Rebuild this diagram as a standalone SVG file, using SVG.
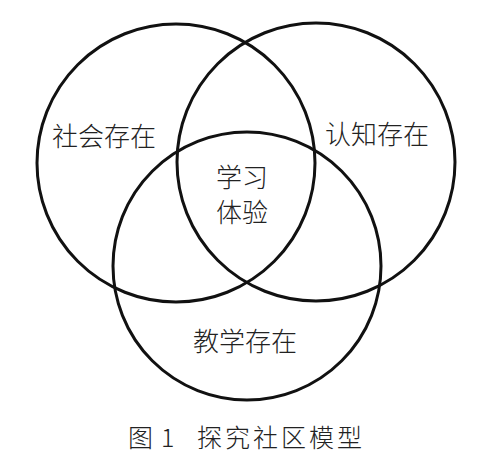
<svg xmlns="http://www.w3.org/2000/svg" width="500" height="457" viewBox="0 0 500 457">
<style>
.c{fill:none;stroke:#111;stroke-width:3}
.t{font-family:"Noto Sans CJK SC","Noto Sans",sans-serif;font-size:26px;fill:#222;font-weight:300}
.cap{font-family:"Noto Sans CJK SC","Noto Sans",sans-serif;font-size:25px;fill:#222;font-weight:300}
</style>
<rect width="500" height="457" fill="#fff"/>
<g id="social"><circle class="c" cx="176" cy="163" r="139"/><text class="t" x="52" y="146">社会存在</text></g>
<g id="cognitive"><circle class="c" cx="316" cy="162" r="139"/><text class="t" x="325" y="144">认知存在</text></g>
<g id="teaching"><circle class="c" cx="247" cy="266" r="134"/><text class="t" x="193" y="351">教学存在</text></g>
<g id="experience"><text class="t" x="216" y="187">学习</text><text class="t" x="216" y="222">体验</text></g>
<g id="connectors"></g>
<g id="caption"><text class="cap" x="128" y="447">图</text><text class="cap" x="161" y="447">1</text><text class="cap" x="197" y="447" letter-spacing="3">探究社区模型</text></g>
</svg>
